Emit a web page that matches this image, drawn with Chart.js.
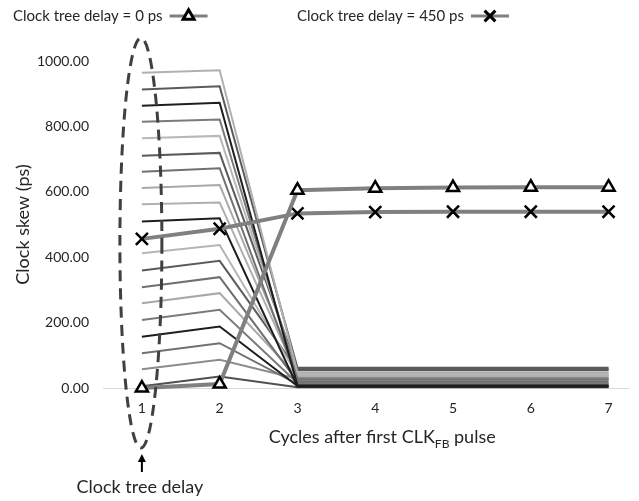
<!DOCTYPE html>
<html><head><meta charset="utf-8">
<script src="https://cdn.jsdelivr.net/npm/chart.js@4"></script>
<style>html,body{margin:0;padding:0;background:#fff}#wrap{width:639px;height:501px}</style>
</head><body><div id="wrap"><canvas id="c" width="639" height="501"></canvas></div>
<script>
// ---- data ----
const cycles = [1, 2, 3, 4, 5, 6, 7];
const tickLabels = ['1', '2', '3', '4', '5', '6', '7'];
const seriesNames = ['Clock tree delay = 0 ps', 'Clock tree delay = 450 ps'];
const delay0 = [0, 12, 605, 611, 613, 614, 614];
const delay450 = [456, 487, 534, 538, 539, 539, 539];
// other clock tree delays (thin grey sweep lines)
const sweep950 = [964, 972, 48, 48, 48, 48, 48];
const sweep900 = [913, 923, 62, 62, 62, 62, 62];
const sweep850 = [863, 872, 8, 8, 8, 8, 8];
const sweep800 = [814, 821, 30, 30, 30, 30, 30];
const sweep750 = [764, 771, 42, 42, 42, 42, 42];
const sweep700 = [710, 719, 58, 58, 58, 58, 58];
const sweep650 = [661, 672, 25, 25, 25, 25, 25];
const sweep600 = [612, 621, 45, 45, 45, 45, 45];
const sweep550 = [562, 567, 40, 40, 40, 40, 40];
const sweep500 = [509, 519, 4, 4, 4, 4, 4];
const sweep400 = [412, 437, 38, 38, 38, 38, 38];
const sweep350 = [359, 389, 55, 55, 55, 55, 55];
const sweep300 = [308, 339, 20, 20, 20, 20, 20];
const sweep250 = [259, 290, 35, 35, 35, 35, 35];
const sweep200 = [208, 239, 15, 15, 15, 15, 15];
const sweep150 = [157, 188, 6, 6, 6, 6, 6];
const sweep100 = [106, 137, 12, 12, 12, 12, 12];
const sweep50 = [57, 86, 28, 28, 28, 28, 28];
const sweepLow = [5, 35, 2, 2, 2, 2, 2];

const sweeps = [sweep950, sweep900, sweep850, sweep800, sweep750, sweep700, sweep650,
  sweep600, sweep550, sweep500, sweep400, sweep350, sweep300, sweep250, sweep200,
  sweep150, sweep100, sweep50, sweepLow];
// ---- styles ----
const sweepColors = ['#b0b0b0', '#5a5a5a', '#1e1e1e', '#7a7a7a', '#b8b8b8', '#5a5a5a', '#707070',
  '#a8a8a8', '#b0b0b0', '#1e1e1e', '#b5b5b5', '#5a5a5a', '#707070', '#a8a8a8', '#7a7a7a',
  '#1e1e1e', '#707070', '#8c8c8c', '#505050'];
const FONT = 'Lato, "Open Sans", sans-serif';
const TEXT = '#262626';

const toXY = arr => arr.map((v, i) => ({ x: cycles[i], y: v }));

const datasets = [
  { label: seriesNames[0], data: toXY(delay0), borderColor: '#808080', borderWidth: 4,
    pointStyle: 'triangle', pointRadius: 7, pointBorderColor: '#000', pointBackgroundColor: '#fff',
    pointBorderWidth: 2.5, clip: false },
  { label: seriesNames[1], data: toXY(delay450), borderColor: '#808080', borderWidth: 4,
    pointStyle: 'crossRot', pointRadius: 8.5, pointBorderColor: '#000', pointBackgroundColor: '#000',
    pointBorderWidth: 2.5, clip: false }
];
sweeps.forEach((s, i) => datasets.push({
  label: 'sweep' + i, data: toXY(s), borderColor: sweepColors[i], borderWidth: 2,
  pointRadius: 0, clip: false
}));

const decorPlugin = {
  id: 'decor',
  afterDatasetsDraw(chart) {
    const ctx = chart.ctx, xs = chart.scales.x;
    const cx = xs.getPixelForValue(cycles[0]) - 1;
    ctx.save();
    ctx.setLineDash([11, 7]);
    ctx.lineWidth = 3;
    ctx.strokeStyle = '#404040';
    ctx.beginPath();
    ctx.ellipse(cx, 243, 21, 205, 0, 0, Math.PI * 2);
    ctx.stroke();
    ctx.restore();
  },
  afterDraw(chart) {
    const ctx = chart.ctx, xs = chart.scales.x;
    const cx = xs.getPixelForValue(cycles[0]);
    ctx.save();
    // arrow
    ctx.strokeStyle = '#000'; ctx.fillStyle = '#000'; ctx.lineWidth = 2;
    ctx.beginPath(); ctx.moveTo(cx, 472); ctx.lineTo(cx, 460); ctx.stroke();
    ctx.beginPath(); ctx.moveTo(cx, 454); ctx.lineTo(cx - 4, 462); ctx.lineTo(cx + 4, 462); ctx.closePath(); ctx.fill();
    // annotation text
    ctx.fillStyle = TEXT; ctx.font = '18px ' + FONT; ctx.textAlign = 'center'; ctx.textBaseline = 'middle';
    ctx.fillText('Clock tree delay', cx - 2, 487);
    // x axis title with subscript
    const parts = [['Cycles after first CLK', 18, 0], ['FB', 12, 5], [' pulse', 18, 0]];
    let total = 0;
    parts.forEach(p => { ctx.font = p[1] + 'px ' + FONT; total += ctx.measureText(p[0]).width; });
    let x = (xs.getPixelForValue(cycles[0]) + xs.getPixelForValue(cycles[cycles.length - 1])) / 2 + 7 - total / 2;
    ctx.textAlign = 'left'; ctx.textBaseline = 'alphabetic';
    parts.forEach(p => { ctx.font = p[1] + 'px ' + FONT; ctx.fillText(p[0], x, 443 + p[2]); x += ctx.measureText(p[0]).width; });
    // legend
    const items = [[0, 13], [1, 297]];
    items.forEach(([di, tx]) => {
      const ds = chart.data.datasets[di];
      ctx.font = '15px ' + FONT; ctx.fillStyle = TEXT; ctx.textBaseline = 'middle'; ctx.textAlign = 'left';
      ctx.fillText(ds.label, tx, 16);
      const sx = tx + ctx.measureText(ds.label).width + 7;
      ctx.strokeStyle = ds.borderColor; ctx.lineWidth = 3;
      ctx.beginPath(); ctx.moveTo(sx, 16); ctx.lineTo(sx + 38, 16); ctx.stroke();
      ctx.strokeStyle = ds.pointBorderColor; ctx.fillStyle = ds.pointBackgroundColor;
      Chart.helpers.drawPoint(ctx, { pointStyle: ds.pointStyle, radius: ds.pointRadius * 0.9, borderWidth: 2, rotation: 0 }, sx + 19, 16);
    });
    ctx.restore();
  }
};

new Chart(document.getElementById('c'), {
  type: 'line',
  data: { datasets },
  options: {
    responsive: false, animation: false, devicePixelRatio: 1,
    layout: { padding: { top: 61, right: 2, left: 0, bottom: 0 } },
    plugins: { legend: { display: false }, tooltip: { enabled: false } },
    elements: { line: { tension: 0 } },
    scales: {
      x: {
        type: 'linear', min: 0.5, max: 7.25,
        grid: { display: false, drawTicks: false },
        border: { display: true, color: '#d9d9d9', width: 1 },
        afterBuildTicks: s => { s.ticks = cycles.map(v => ({ value: v })); },
        ticks: { padding: 12, color: TEXT, font: { family: FONT, size: 14 },
          callback: v => { const i = cycles.indexOf(v); return i >= 0 ? tickLabels[i] : ''; } },
        afterFit: s => { s.height = 113; }
      },
      y: {
        min: 0, max: 1000,
        grid: { display: false, drawTicks: false },
        border: { display: false },
        ticks: { stepSize: 200, padding: 14, color: TEXT, font: { family: FONT, size: 14 },
          callback: v => v.toFixed(2) },
        title: { display: true, text: 'Clock skew (ps)', color: TEXT, font: { family: FONT, size: 18 },
          padding: { top: 12, bottom: 4 } },
        afterFit: s => { s.width = 103; }
      }
    }
  },
  plugins: [decorPlugin]
});
</script>
</body></html>
